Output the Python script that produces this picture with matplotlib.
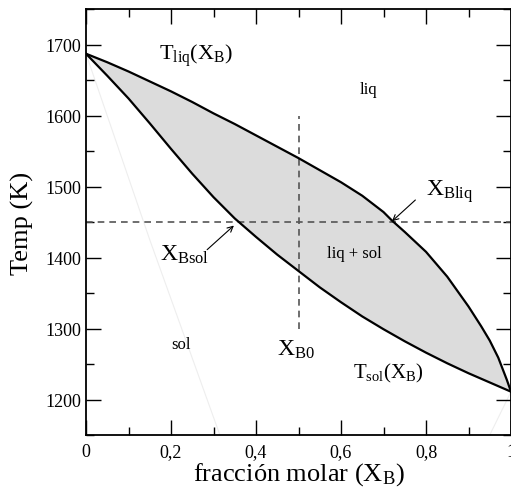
import numpy as np
import matplotlib
matplotlib.use("Agg")
import matplotlib.pyplot as plt
from matplotlib.ticker import MultipleLocator

plt.rcParams['font.family'] = 'serif'
plt.rcParams['font.serif'] = ['Liberation Serif', 'DejaVu Serif']
plt.rcParams['mathtext.fontset'] = 'custom'
plt.rcParams['mathtext.rm'] = 'Liberation Serif'
plt.rcParams['mathtext.it'] = 'Liberation Serif:italic'

# --- data ---
x_liq = [0.0, 0.05, 0.1, 0.15, 0.2, 0.25, 0.3, 0.35, 0.4, 0.45, 0.5, 0.55, 0.6,
         0.65, 0.7, 0.72, 0.75, 0.8, 0.85, 0.9, 0.93, 0.95, 0.97, 0.99, 1.0]
T_liq = [1687, 1675, 1662, 1648, 1634, 1619, 1603, 1588, 1572, 1556, 1540, 1523, 1506,
         1487, 1464, 1452, 1436, 1408, 1373, 1331, 1303, 1283, 1259, 1228, 1211]

x_sol = [0.0, 0.05, 0.1, 0.15, 0.2, 0.25, 0.3, 0.35, 0.4, 0.45, 0.5, 0.55, 0.6,
         0.65, 0.7, 0.75, 0.8, 0.85, 0.9, 0.95, 1.0]
T_sol = [1687, 1656, 1624, 1589, 1553, 1518, 1485, 1455, 1429, 1404, 1381, 1358, 1337,
         1317, 1299, 1282, 1266, 1251, 1237, 1224, 1211]

# faint guide lines
x_faint_left = [0.0, 0.15, 0.315]
T_faint_left = [1687, 1425, 1150]
x_faint_right = [1.0, 0.95]
T_faint_right = [1211, 1150]

T_hline = 1450
x_B0 = 0.5
T_vline = [1300, 1600]

xticks = [0, 0.2, 0.4, 0.6, 0.8, 1.0]
xticklabels = ["0", "0,2", "0,4", "0,6", "0,8", "1"]
yticks = [1200, 1300, 1400, 1500, 1600, 1700]

fig = plt.figure(figsize=(5.11, 4.89), dpi=100)
ax = fig.add_axes([86 / 511, 1 - 436 / 489, 1 - 86 / 511, (436 - 10) / 489])

# two-phase region
xs = np.linspace(0, 1, 400)
lo = np.interp(xs, x_sol, T_sol)
hi = np.interp(xs, x_liq, T_liq)
ax.fill_between(xs, lo, hi, color='#dcdcdc', lw=0, zorder=1)

ax.plot(x_faint_left, T_faint_left, color='#eeeeee', lw=0.8, zorder=1)
ax.plot(x_faint_right, T_faint_right, color='#eeeeee', lw=0.8, zorder=1)

ax.plot(x_liq, T_liq, color='k', lw=1.6, zorder=3, solid_joinstyle='round')
ax.plot(x_sol, T_sol, color='k', lw=1.6, zorder=3, solid_joinstyle='round')

ax.axhline(T_hline, color='#555555', lw=1.2, dashes=(4, 3), zorder=2)
ax.plot([x_B0, x_B0], T_vline, color='#555555', lw=1.2, dashes=(4, 3), zorder=2)

ax.set_xlim(0, 1)
ax.set_ylim(1150, 1750)
ax.set_xticks(xticks)
ax.set_xticklabels(xticklabels)
ax.set_yticks(yticks)
ax.xaxis.set_minor_locator(MultipleLocator(0.1))
ax.yaxis.set_minor_locator(MultipleLocator(50))
ax.tick_params(which='both', direction='in', top=True, right=True, labelsize=13)
ax.tick_params(which='major', length=11, width=1)
ax.tick_params(which='minor', length=6, width=1)
ax.tick_params(axis='x', pad=6)
for s in ax.spines.values():
    s.set_linewidth(1.3)

ax.set_xlabel(r'fracción molar ($\mathrm{X_B}$)', fontsize=19, labelpad=0)
ax.set_ylabel('Temp (K)', fontsize=19, labelpad=8)

# labels
ax.text(0.259, 1679, r'$\mathrm{T_{liq}(X_B)}$', fontsize=16, ha='center', va='baseline')
ax.text(0.664, 1631, 'liq', fontsize=12, ha='center', va='baseline')
ax.text(0.80, 1489, r'$\mathrm{X_{Bliq}}$', fontsize=17, ha='left', va='baseline')
ax.text(0.174, 1397, r'$\mathrm{X_{Bsol}}$', fontsize=17, ha='left', va='baseline')
ax.text(0.632, 1400, 'liq + sol', fontsize=12, ha='center', va='baseline')
ax.text(0.224, 1273, 'sol', fontsize=12, ha='center', va='baseline')
ax.text(0.449, 1263, r'$\mathrm{X_{B0}}$', fontsize=17, ha='left', va='baseline')
ax.text(0.628, 1231, r'$\mathrm{T_{sol}(X_B)}$', fontsize=15, ha='left', va='baseline')

arrow = dict(arrowstyle='->', color='k', lw=0.8, shrinkA=0, shrinkB=0)
ax.annotate('', xy=(0.72, 1451), xytext=(0.775, 1481), arrowprops=arrow)
ax.annotate('', xy=(0.348, 1445), xytext=(0.285, 1411), arrowprops=arrow)

fig.savefig('out.png', dpi=100)
